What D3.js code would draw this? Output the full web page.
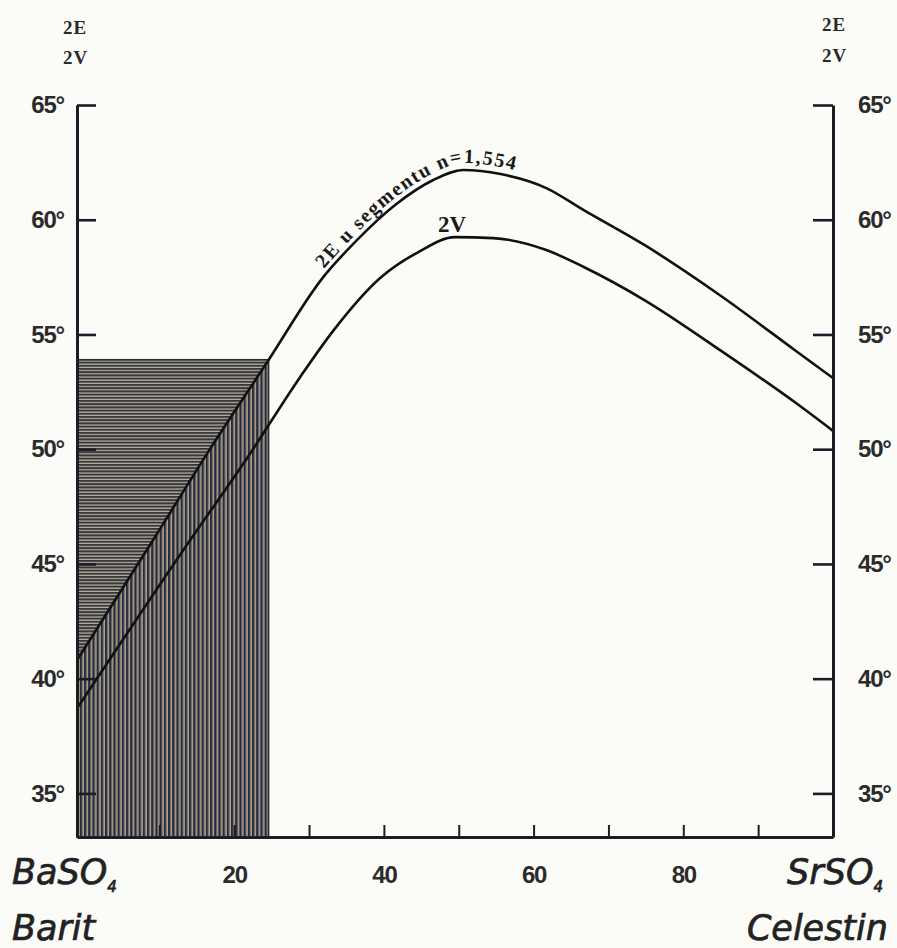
<!DOCTYPE html>
<html>
<head>
<meta charset="utf-8">
<script src="https://cdn.jsdelivr.net/npm/d3@7"></script>
<style>
  body { margin: 0; background: #fbfbf8; }
  svg { display: block; }
</style>
</head>
<body>
<div id="chart"></div>
<script>
// mol % SrSO4 and optic angle readings (degrees)
var comp2E  = [-1, 9.4, 16.4, 24.4, 31.9, 36.4, 41.5, 46.6, 50.6, 55.6, 61.7, 66.7, 74.8, 84.9, 95.1, 100];
var angle2E = [40.8, 46.16, 49.82, 53.79, 57.5, 59.11, 60.64, 61.73, 62.17, 61.99, 61.38, 60.42, 58.9, 56.71, 54.27, 53.1];

var comp2V  = [-1, 14.1, 21.8, 28.8, 33.3, 39.5, 44.6, 49.5, 54.6, 61.7, 66.7, 74.8, 84.9, 95.1, 100];
var angle2V = [38.7, 46.03, 49.65, 53.14, 55.19, 57.46, 58.59, 59.24, 59.2, 58.68, 57.94, 56.5, 54.32, 52.0, 50.8];

// shaded field (composition range and upper angle)
var fieldComp = [-1, 24.6];
var fieldTop = 53.9;

var xTicks = [10, 20, 30, 40, 50, 60, 70, 80, 90];
var xLabels = [20, 40, 60, 80];
var yTicks = [35, 40, 45, 50, 55, 60, 65];

var width = 897, height = 948;

var svg = d3.select("#chart").append("svg")
    .attr("width", width)
    .attr("height", height);

var x = d3.scaleLinear().domain([-1, 100]).range([77, 833]);
var y = d3.scaleLinear().domain([33.1, 65]).range([837, 105]);

var e2 = comp2E.map(function(c, i) { return [c, angle2E[i]]; });
var v2 = comp2V.map(function(c, i) { return [c, angle2V[i]]; });

var defs = svg.append("defs");

var vh = defs.append("pattern")
    .attr("id", "vhatch")
    .attr("patternUnits", "userSpaceOnUse")
    .attr("width", 4.2)
    .attr("height", 10);
vh.append("rect").attr("width", 4.2).attr("height", 10).attr("fill", "#c3a57c");
vh.append("rect").attr("x", 0).attr("width", 2.2).attr("height", 10).attr("fill", "#1f2b44");
vh.append("rect").attr("x", 2.8).attr("width", 0.6).attr("height", 10).attr("fill", "#6f7480");

var hh = defs.append("pattern")
    .attr("id", "hhatch")
    .attr("patternUnits", "userSpaceOnUse")
    .attr("width", 10)
    .attr("height", 3.2);
hh.append("rect").attr("width", 10).attr("height", 3.2).attr("fill", "#b8b4ac");
hh.append("rect").attr("y", 0).attr("width", 10).attr("height", 2.0).attr("fill", "#383634");

defs.append("clipPath")
    .attr("id", "fieldClip")
  .append("rect")
    .attr("x", x(fieldComp[0]))
    .attr("y", y(fieldTop))
    .attr("width", x(fieldComp[1]) - x(fieldComp[0]))
    .attr("height", y.range()[0] - y(fieldTop));

// shaded field: vertical hatching under 2E, horizontal above it
svg.append("rect")
    .attr("x", x(fieldComp[0]))
    .attr("y", y(fieldTop))
    .attr("width", x(fieldComp[1]) - x(fieldComp[0]))
    .attr("height", y.range()[0] - y(fieldTop))
    .attr("fill", "url(#vhatch)");

var area = d3.area()
    .x(function(d) { return x(d[0]); })
    .y0(y(fieldTop))
    .y1(function(d) { return y(d[1]); })
    .curve(d3.curveMonotoneX);

svg.append("path")
    .datum(e2)
    .attr("clip-path", "url(#fieldClip)")
    .attr("fill", "url(#hhatch)")
    .attr("d", area);

svg.append("rect")
    .attr("x", x(fieldComp[0]))
    .attr("y", y(fieldTop))
    .attr("width", x(fieldComp[1]) - x(fieldComp[0]))
    .attr("height", y.range()[0] - y(fieldTop))
    .attr("fill", "none")
    .attr("stroke", "#2a2a30")
    .attr("stroke-width", 1.5);

// curves
var line = d3.line()
    .x(function(d) { return x(d[0]); })
    .y(function(d) { return y(d[1]); })
    .curve(d3.curveMonotoneX);

svg.append("path")
    .datum(e2)
    .attr("fill", "none")
    .attr("stroke", "#111")
    .attr("stroke-width", 2.6)
    .attr("d", line);

svg.append("path")
    .datum(v2)
    .attr("fill", "none")
    .attr("stroke", "#111")
    .attr("stroke-width", 2.6)
    .attr("d", line);

// axes
var axisFont = "'Liberation Sans', Arial, sans-serif";

var gL = svg.append("g")
    .attr("transform", "translate(" + x(-1) + ",0)")
    .call(d3.axisLeft(y).tickValues(yTicks).tickSizeInner(-19).tickSizeOuter(0).tickPadding(13)
        .tickFormat(function(d) { return d + "°"; }));

var gR = svg.append("g")
    .attr("transform", "translate(" + x(100) + ",0)")
    .call(d3.axisRight(y).tickValues(yTicks).tickSizeInner(-20).tickSizeOuter(0).tickPadding(25)
        .tickFormat(function(d) { return d + "°"; }));

var gB = svg.append("g")
    .attr("transform", "translate(0," + y.range()[0] + ")")
    .call(d3.axisBottom(x).tickValues(xTicks).tickSizeInner(-12).tickSizeOuter(0).tickPadding(29)
        .tickFormat(function(d) { return xLabels.indexOf(d) >= 0 ? d : ""; }));

[gL, gR, gB].forEach(function(g) {
  g.select(".domain").attr("stroke", "#1b1c26").attr("stroke-width", 3);
  g.selectAll(".tick line").attr("stroke", "#1b1c26").attr("stroke-width", 2.6);
  g.selectAll(".tick text")
      .attr("fill", "#2b2b2b")
      .attr("font-family", axisFont)
      .attr("font-weight", "bold")
      .attr("font-size", 24)
      .attr("letter-spacing", -1.2);
});
gB.selectAll(".tick line").attr("stroke-width", 2);

// axis titles
var serif = "'Liberation Serif', 'Times New Roman', serif";
[[63, "2E", 34], [63, "2V", 64], [822, "2E", 31], [822, "2V", 62]].forEach(function(t) {
  svg.append("text")
      .attr("x", t[0])
      .attr("y", t[2])
      .attr("font-family", serif)
      .attr("font-weight", "bold")
      .attr("font-size", 19)
      .attr("letter-spacing", 1)
      .attr("fill", "#2a2a2a")
      .text(t[1]);
});

// curve labels
var labelPath = d3.line()
    .x(function(d) { return x(d[0]); })
    .y(function(d) { return y(d[1]) - 7; })
    .curve(d3.curveMonotoneX);

var lp = defs.append("path")
    .attr("id", "labelPath")
    .attr("d", labelPath(e2));

var node = lp.node();
var lo = 0, hi = node.getTotalLength();
for (var k = 0; k < 40; k++) {
  var mid = (lo + hi) / 2;
  if (node.getPointAtLength(mid).x < 324) lo = mid; else hi = mid;
}

svg.append("text")
    .attr("font-family", serif)
    .attr("font-weight", "bold")
    .attr("font-size", 20)
    .attr("letter-spacing", 1.6)
    .attr("fill", "#1a1a1a")
  .append("textPath")
    .attr("href", "#labelPath")
    .attr("startOffset", lo)
    .text("2E u segmentu n=1,554");

svg.append("text")
    .attr("x", x(49.5) - 3)
    .attr("y", y(59.24) - 5)
    .attr("text-anchor", "middle")
    .attr("font-family", serif)
    .attr("font-weight", "bold")
    .attr("font-size", 23)
    .attr("fill", "#1a1a1a")
    .text("2V");

// end member names
var script = "'DejaVu Sans', sans-serif";
function member(xp, yp, main, sub, anchor) {
  var t = svg.append("text")
      .attr("x", xp)
      .attr("y", yp)
      .attr("text-anchor", anchor)
      .attr("font-family", script)
      .attr("font-style", "italic")
      .attr("font-size", 35)
      .attr("fill", "#222")
      .attr("stroke", "#222")
      .attr("stroke-width", 0.7);
  t.append("tspan").text(main);
  if (sub) {
    t.append("tspan").attr("font-size", 15).attr("dy", 8).text(sub);
  }
}
member(12, 884, "BaSO", "4", "start");
member(12, 940, "Barit", null, "start");
member(883, 884, "SrSO", "4", "end");
member(888, 940, "Celestin", null, "end");
</script>
</body>
</html>
